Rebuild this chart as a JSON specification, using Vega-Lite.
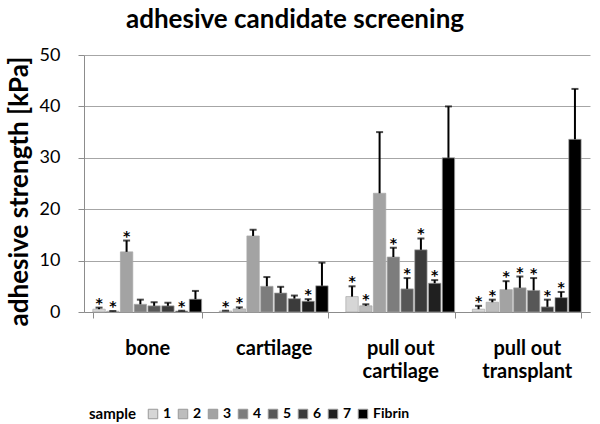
{
  "$schema": "https://vega.github.io/schema/vega-lite/v6.json",
  "width": 506,
  "height": 257,
  "autosize": {"type": "none"},
  "padding": {"left": 84, "top": 55, "right": 10, "bottom": 112},
  "background": "white",
  "title": {
    "text": "adhesive candidate screening",
    "font": "Lato",
    "fontSize": 26,
    "fontWeight": "bold",
    "color": "black",
    "anchor": "middle",
    "dx": -42,
    "offset": 13
  },
  "data": {
    "values": [
      {"group": "bone", "sample": "1", "value": 0.55, "hi": 0.85, "sig": "*"},
      {"group": "bone", "sample": "2", "value": 0.15, "hi": 0.2, "sig": "*"},
      {"group": "bone", "sample": "3", "value": 11.7, "hi": 13.9, "sig": "*"},
      {"group": "bone", "sample": "4", "value": 1.5, "hi": 2.4, "sig": ""},
      {"group": "bone", "sample": "5", "value": 1.2, "hi": 1.9, "sig": ""},
      {"group": "bone", "sample": "6", "value": 1.2, "hi": 1.8, "sig": ""},
      {"group": "bone", "sample": "7", "value": 0.2, "hi": 0.25, "sig": "*"},
      {"group": "bone", "sample": "Fibrin", "value": 2.5, "hi": 4.1, "sig": ""},
      {"group": "cartilage", "sample": "1", "value": 0.2, "hi": 0.25, "sig": "*"},
      {"group": "cartilage", "sample": "2", "value": 0.6, "hi": 0.9, "sig": "*"},
      {"group": "cartilage", "sample": "3", "value": 14.8, "hi": 16.0, "sig": ""},
      {"group": "cartilage", "sample": "4", "value": 5.0, "hi": 6.8, "sig": ""},
      {"group": "cartilage", "sample": "5", "value": 3.7, "hi": 4.9, "sig": ""},
      {"group": "cartilage", "sample": "6", "value": 2.6, "hi": 3.2, "sig": ""},
      {"group": "cartilage", "sample": "7", "value": 2.1, "hi": 2.5, "sig": "*"},
      {"group": "cartilage", "sample": "Fibrin", "value": 5.1, "hi": 9.6, "sig": ""},
      {"group": "pull out cartilage", "sample": "1", "value": 3.0, "hi": 5.0, "sig": "*"},
      {"group": "pull out cartilage", "sample": "2", "value": 1.2, "hi": 1.5, "sig": "*"},
      {"group": "pull out cartilage", "sample": "3", "value": 23.1, "hi": 35.0, "sig": ""},
      {"group": "pull out cartilage", "sample": "4", "value": 10.7, "hi": 12.5, "sig": "*"},
      {"group": "pull out cartilage", "sample": "5", "value": 4.5, "hi": 6.6, "sig": "*"},
      {"group": "pull out cartilage", "sample": "6", "value": 12.1, "hi": 14.3, "sig": "*"},
      {"group": "pull out cartilage", "sample": "7", "value": 5.6, "hi": 6.2, "sig": "*"},
      {"group": "pull out cartilage", "sample": "Fibrin", "value": 30.0, "hi": 40.0, "sig": ""},
      {"group": "pull out transplant", "sample": "1", "value": 0.55, "hi": 1.2, "sig": "*"},
      {"group": "pull out transplant", "sample": "2", "value": 1.9, "hi": 2.4, "sig": "*"},
      {"group": "pull out transplant", "sample": "3", "value": 4.35, "hi": 6.0, "sig": "*"},
      {"group": "pull out transplant", "sample": "4", "value": 4.7, "hi": 6.9, "sig": "*"},
      {"group": "pull out transplant", "sample": "5", "value": 4.2, "hi": 6.6, "sig": "*"},
      {"group": "pull out transplant", "sample": "6", "value": 1.0, "hi": 2.4, "sig": "*"},
      {"group": "pull out transplant", "sample": "7", "value": 2.8, "hi": 3.9, "sig": "*"},
      {"group": "pull out transplant", "sample": "Fibrin", "value": 33.6, "hi": 43.4, "sig": ""}
    ]
  },
  "encoding": {
    "x": {
      "field": "group",
      "type": "nominal",
      "sort": ["bone", "cartilage", "pull out cartilage", "pull out transplant"],
      "scale": {"paddingInner": 0.14, "paddingOuter": 0.07},
      "axis": {
        "title": null,
        "labelAngle": 0,
        "tickBand": "extent",
        "labelExpr": "substring(datum.label, 0, 9) == 'pull out ' ? ['pull out', substring(datum.label, 9)] : datum.label",
        "labelFont": "Lato",
        "labelFontSize": 20,
        "labelFontWeight": "bold",
        "labelColor": "black",
        "labelLineHeight": 23,
        "labelPadding": 20,
        "tickSize": 6,
        "tickColor": "#8c8c8c",
        "domainColor": "#8c8c8c",
        "grid": false
      }
    },
    "xOffset": {
      "field": "sample",
      "type": "nominal",
      "sort": ["1", "2", "3", "4", "5", "6", "7", "Fibrin"],
      "scale": {"paddingInner": 0.1}
    }
  },
  "layer": [
    {
      "mark": {"type": "bar", "stroke": "#a8a8a8", "strokeWidth": 0.7},
      "encoding": {
        "y": {
          "field": "value",
          "type": "quantitative",
          "scale": {"domain": [0, 50]},
          "axis": {
            "values": [0, 10, 20, 30, 40, 50],
            "title": "adhesive strength [kPa]",
            "titleFont": "Lato",
            "titleFontSize": 26,
            "titleFontWeight": "bold",
            "titleColor": "black",
            "titlePadding": 7,
            "titleY": 136,
            "labelFont": "Lato",
            "labelFontSize": 18,
            "labelColor": "black",
            "labelPadding": 18,
            "tickSize": 6,
            "tickColor": "#8c8c8c",
            "domainColor": "#8c8c8c",
            "grid": true,
            "gridColor": "#a6a6a6",
            "gridWidth": 1
          }
        },
        "color": {
          "field": "sample",
          "type": "nominal",
          "sort": ["1", "2", "3", "4", "5", "6", "7", "Fibrin"],
          "scale": {
            "domain": ["1", "2", "3", "4", "5", "6", "7", "Fibrin"],
            "range": ["#d6d6d6", "#bdbdbd", "#a3a3a3", "#7d7d7d", "#575757", "#3b3b3b", "#202020", "#000000"]
          },
          "legend": {
            "title": "sample",
            "orient": "none",
            "legendX": 5,
            "legendY": 352,
            "direction": "horizontal",
            "titleOrient": "left",
            "titleFont": "Lato",
            "titleFontSize": 15,
            "titleFontWeight": "bold",
            "titleColor": "black",
            "titlePadding": 9,
            "labelFont": "Lato",
            "labelFontSize": 14,
            "labelFontWeight": "bold",
            "labelColor": "black",
            "labelOffset": 3,
            "symbolType": "square",
            "symbolSize": 90,
            "symbolStrokeColor": "#999999",
            "symbolStrokeWidth": 1,
            "columnPadding": 4
          }
        }
      }
    },
    {
      "mark": {"type": "rule", "color": "black", "strokeWidth": 2},
      "encoding": {
        "y": {"field": "value", "type": "quantitative"},
        "y2": {"field": "hi"}
      }
    },
    {
      "mark": {"type": "tick", "color": "black", "thickness": 2, "size": 7, "orient": "horizontal"},
      "encoding": {
        "y": {"field": "hi", "type": "quantitative"}
      }
    },
    {
      "mark": {"type": "text", "font": "DejaVu Sans", "fontSize": 14, "fontWeight": "bold", "baseline": "middle", "dy": -4, "color": "black"},
      "encoding": {
        "y": {"field": "hi", "type": "quantitative"},
        "text": {"field": "sig"}
      }
    }
  ],
  "config": {
    "view": {"stroke": null}
  }
}
